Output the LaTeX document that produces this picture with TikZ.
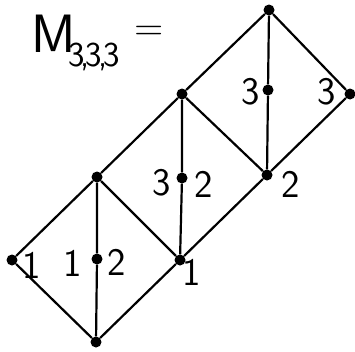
\documentclass[tikz,border=0pt]{standalone}
\begin{document}
\begin{tikzpicture}[x=1pt,y=-1pt,
  dot/.style={circle,fill=black,inner sep=0pt,minimum size=11pt},
  lab/.style={inner sep=0pt,font=\sffamily\fontsize{39}{41}\selectfont},
  edge/.style={line width=2.2pt}]
\useasboundingbox (0,0) rectangle (355,351);
% vertices
\node[dot] (A) at (269,10) {};
\node[dot] (B) at (268,90) {};
\node[dot] (C) at (350,94) {};
\node[dot] (D) at (182,94) {};
\node[dot] (E) at (267,175) {};
\node[dot] (F) at (182,178) {};
\node[dot] (G) at (97,177) {};
\node[dot] (H) at (180,260) {};
\node[dot] (I) at (97,259) {};
\node[dot] (J) at (12,260) {};
\node[dot] (K) at (96,342) {};
% edges
\draw[edge] (J) -- (G) (J) -- (K) (G) -- (I) -- (K) (G) -- (H) (K) -- (H);
\draw[edge] (G) -- (D) (D) -- (F) -- (H) (D) -- (E) (H) -- (E);
\draw[edge] (D) -- (A) (A) -- (B) -- (E) (A) -- (C) (C) -- (E);
% labels
\node[lab] (l1) at (32,265) {1};
\node[lab] (l2) at (73,263) {1};
\node[lab] (l3) at (117,262) {2};
\node[lab] (l4) at (192,272) {1};
\node[lab] (l5) at (162,183) {3};
\node[lab] (l6) at (204,184) {2};
\node[lab] (l7) at (291,184) {2};
\node[lab] (l8) at (251,92) {3};
\node[lab] (l9) at (327,92) {3};
% title
\node[inner sep=0pt,anchor=base west,font=\sffamily\fontsize{54}{56}\selectfont] (M) at (31,52) {M};
\node[inner sep=0pt,anchor=base west,font=\sffamily\fontsize{35}{37}\selectfont] (sub) at (68,66) {3\kern-4pt,\kern-4pt3\kern-4pt,\kern-4pt3};
\node[inner sep=0pt,font=\sffamily\fontsize{40}{42}\selectfont] (eq) at (149,33) {=};
\end{tikzpicture}
\end{document}
